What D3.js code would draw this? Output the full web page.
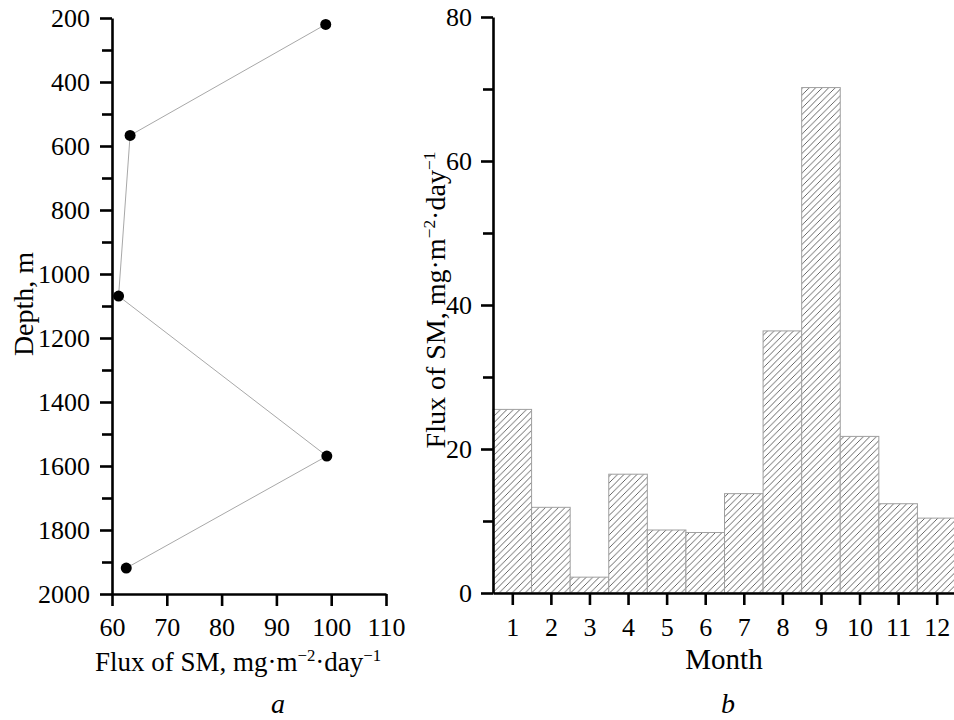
<!DOCTYPE html>
<html><head><meta charset="utf-8">
<script src="https://cdn.jsdelivr.net/npm/d3@7"></script>
<style>
html,body{margin:0;padding:0;background:#fff;}
svg{display:block;font-family:"Liberation Serif","DejaVu Serif",serif;}
svg text{font-family:"Liberation Serif","DejaVu Serif",serif;}
</style></head>
<body>
<svg id="chart" width="954" height="720"></svg>
<script>
// Panel a: flux vs depth
const fluxA = [99.0, 63.3, 61.2, 99.2, 62.6];
const depthA = [220, 567, 1069, 1569, 1919];
const depthTicks = [200, 400, 600, 800, 1000, 1200, 1400, 1600, 1800, 2000];
const depthMinor = [300, 500, 700, 900, 1100, 1300, 1500, 1700, 1900];
const fluxTicksA = [60, 70, 80, 90, 100, 110];

// Panel b: monthly flux
const months = [1, 2, 3, 4, 5, 6, 7, 8, 9, 10, 11, 12];
const fluxB = [25.5, 11.9, 2.2, 16.5, 8.75, 8.4, 13.8, 36.4, 70.2, 21.75, 12.4, 10.4];
const fluxTicksB = [0, 20, 40, 60, 80];
const fluxMinorB = [10, 30, 50, 70];

const svg = d3.select("#chart");
const FS = 26;
const LFS = 28;
const fmt = d3.format("d");

// hatch pattern
const defs = svg.append("defs");
const pat = defs.append("pattern").attr("id","hatch").attr("patternUnits","userSpaceOnUse")
  .attr("width",6.5).attr("height",6.5);
pat.append("rect").attr("width",6.5).attr("height",6.5).attr("fill","#fff");
pat.append("path").attr("d","M-1,7.5 L7.5,-1 M-2,2 L2,-2 M4.5,8.5 L8.5,4.5")
  .attr("stroke","#555").attr("stroke-width",0.9);

function styleAxis(g){
  g.attr("font-family","Liberation Serif, serif").attr("font-size",FS);
  g.select(".domain").attr("stroke","#000").attr("stroke-width",2.6);
  g.selectAll(".tick line").attr("stroke","#000").attr("stroke-width",2.6);
  g.selectAll(".tick text").attr("fill","#000");
}

function fluxLabel(sel, fs){
  sel.append("tspan").text("Flux of SM, mg·m");
  sel.append("tspan").attr("font-size",fs*0.62).attr("dy",-10).text("−2");
  sel.append("tspan").attr("dy",10).text("·day");
  sel.append("tspan").attr("font-size",fs*0.62).attr("dy",-10).text("−1");
}

// ---------- Panel a ----------
const xA = d3.scaleLinear().domain([60,110]).range([112,386]);
const yA = d3.scaleLinear().domain([200,2000]).range([18,594]);

const gAy = svg.append("g").attr("transform",`translate(${xA.range()[0]},0)`)
  .call(d3.axisLeft(yA).tickValues(depthTicks).tickFormat(fmt).tickSize(12).tickPadding(10).tickSizeOuter(0));
styleAxis(gAy);
svg.append("g").attr("transform",`translate(${xA.range()[0]},0)`)
  .call(d3.axisLeft(yA).tickValues(depthMinor).tickSize(10).tickFormat(""))
  .call(g=>{g.select(".domain").remove(); g.selectAll("line").attr("stroke","#000").attr("stroke-width",2.6);});

const gAx = svg.append("g").attr("transform",`translate(0,${yA.range()[1]})`)
  .call(d3.axisBottom(xA).tickValues(fluxTicksA).tickFormat(fmt).tickSize(12).tickPadding(12).tickSizeOuter(0));
styleAxis(gAx);

const line = d3.line().x((d,i)=>xA(fluxA[i])).y((d,i)=>yA(depthA[i]));
svg.append("path").datum(depthA).attr("d",line).attr("fill","none").attr("stroke","#a8a8a8").attr("stroke-width",1);
svg.selectAll("circle.pt").data(depthA).enter().append("circle")
  .attr("cx",(d,i)=>xA(fluxA[i])).attr("cy",d=>yA(d)).attr("r",5.5).attr("fill","#000");

svg.append("text").attr("transform","translate(33,304) rotate(-90)").attr("text-anchor","middle")
  .attr("font-size",LFS).text("Depth, m");
svg.append("text").attr("x",238).attr("y",671).attr("text-anchor","middle").attr("font-size",27)
  .call(fluxLabel, 27);
svg.append("text").attr("x",278).attr("y",713).attr("text-anchor","middle").attr("font-size",LFS).attr("font-style","italic").text("a");

// ---------- Panel b ----------
const xB = d3.scaleLinear().domain([0.5,12.5]).range([493,956]);
const yB = d3.scaleLinear().domain([0,80]).range([593,17]);
const bw = xB(1.5)-xB(0.5);

svg.selectAll("rect.bar").data(fluxB).enter().append("rect")
  .attr("x",(d,i)=>xB(months[i]-0.5)).attr("width",bw)
  .attr("y",d=>yB(d)).attr("height",d=>yB(0)-yB(d))
  .attr("fill","url(#hatch)").attr("stroke","#a0a0a0").attr("stroke-width",1);

const gBy = svg.append("g").attr("transform",`translate(${xB.range()[0]},0)`)
  .call(d3.axisLeft(yB).tickValues(fluxTicksB).tickFormat(fmt).tickSize(12).tickPadding(9).tickSizeOuter(0));
styleAxis(gBy);
svg.append("g").attr("transform",`translate(${xB.range()[0]},0)`)
  .call(d3.axisLeft(yB).tickValues(fluxMinorB).tickSize(10).tickFormat(""))
  .call(g=>{g.select(".domain").remove(); g.selectAll("line").attr("stroke","#000").attr("stroke-width",2.6);});

const gBx = svg.append("g").attr("transform",`translate(0,${yB.range()[0]})`)
  .call(d3.axisBottom(xB).tickValues(months).tickFormat(fmt).tickSize(12).tickPadding(13).tickSizeOuter(0));
styleAxis(gBx);

svg.append("text").attr("transform","translate(445,300) rotate(-90)").attr("text-anchor","middle")
  .attr("font-size",LFS).call(fluxLabel, LFS);
svg.append("text").attr("x",724).attr("y",669).attr("text-anchor","middle").attr("font-size",29).text("Month");
svg.append("text").attr("x",728).attr("y",713).attr("text-anchor","middle").attr("font-size",LFS).attr("font-style","italic").text("b");
</script>
</body></html>
